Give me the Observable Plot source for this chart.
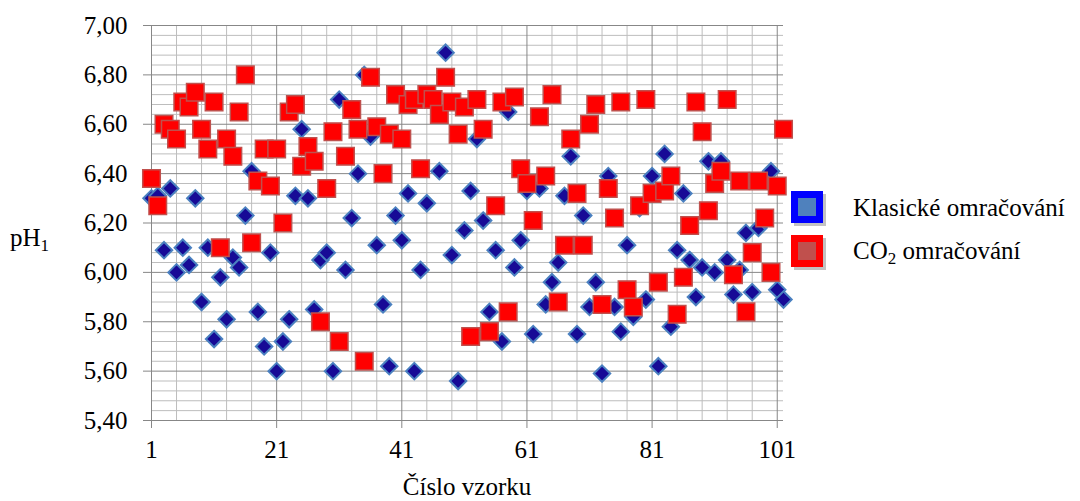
<!DOCTYPE html>
<html><head><meta charset="utf-8">
<script src="https://cdn.jsdelivr.net/npm/d3@7"></script>
<script src="https://cdn.jsdelivr.net/npm/@observablehq/plot@0.6"></script>
<style>
body{margin:0;background:#fff;}
#wrap{position:relative;width:1080px;height:501px;font-family:"Liberation Serif","Times New Roman",serif;color:#000;}
.lbl{position:absolute;font-size:25px;line-height:1;white-space:nowrap;}
.sw{position:absolute;width:32px;height:32px;}
</style></head><body><div id="wrap"></div>
<script>
const sample = [1,2,3,4,5,6,7,8,9,10,11,12,13,14,15,16,17,18,19,20,21,22,23,24,25,26,27,28,29,30,31,32,33,34,35,36,37,38,39,40,41,42,43,44,45,46,47,48,49,50,51,52,53,54,55,56,57,58,59,60,61,62,63,64,65,66,67,68,69,70,71,72,73,74,75,76,77,78,79,80,81,82,83,84,85,86,87,88,89,90,91,92,93,94,95,96,97,98,99,100,101,102];
const klasicke = [6.30,6.31,6.09,6.34,6.00,6.10,6.03,6.30,5.88,6.10,
 5.73,5.98,5.81,6.06,6.02,6.23,6.41,5.84,5.70,6.08,
 5.60,5.72,5.81,6.31,6.58,6.30,5.85,6.05,6.08,5.60,
 6.70,6.01,6.22,6.40,6.80,6.55,6.11,5.87,5.62,6.23,
 6.13,6.32,5.60,6.01,6.28,6.69,6.41,6.89,6.07,5.56,
 6.17,6.33,6.54,6.21,5.84,6.09,5.72,6.65,6.02,6.13,
 6.33,5.75,6.34,5.87,5.96,6.04,6.31,6.47,5.75,6.23,
 5.86,5.96,5.59,6.39,5.86,5.76,6.11,5.82,6.26,5.89,
 6.39,5.62,6.48,5.78,6.09,6.32,6.05,5.90,6.02,6.45,
 6.00,6.45,6.05,5.91,6.01,6.16,5.92,6.18,6.21,6.41,
 5.93,5.89];
const co2 = [6.38,6.27,6.60,6.58,6.54,6.69,6.67,6.73,6.58,6.50,
 6.69,6.10,6.54,6.47,6.65,6.80,6.12,6.37,6.50,6.35,
 6.50,6.20,6.65,6.68,6.43,6.51,6.45,5.80,6.34,6.57,
 5.72,6.47,6.66,6.58,5.64,6.79,6.59,6.40,6.56,6.72,
 6.54,6.68,6.70,6.42,6.72,6.70,6.64,6.79,6.69,6.56,
 6.67,5.74,6.70,6.58,5.76,6.27,6.69,5.84,6.71,6.42,
 6.36,6.21,6.63,6.39,6.72,5.88,6.11,6.54,6.32,6.11,
 6.60,6.68,5.87,6.34,6.22,6.69,5.93,5.86,6.27,6.70,
 6.32,5.96,6.33,6.39,5.83,5.98,6.19,6.69,6.57,6.25,
 6.36,6.41,6.70,5.99,6.37,5.84,6.08,6.37,6.22,6.00,
 6.35,6.58];
const yMajor = [5.4,5.6,5.8,6.0,6.2,6.4,6.6,6.8,7.0];
const yMinor = [5.44,5.48,5.52,5.56,5.64,5.68,5.72,5.76,5.84,5.88,5.92,5.96,6.04,6.08,6.12,6.16,6.24,6.28,6.32,6.36,6.44,6.48,6.52,6.56,6.64,6.68,6.72,6.76,6.84,6.88,6.92,6.96];
const xMajor = [1,21,41,61,81,101];
const xMinor = [5,9,13,17,25,29,33,37,45,49,53,57,65,69,73,77,85,89,93,97];
const seriesNames = ["Klasické omračování","CO₂ omračování"];

const blue = sample.map((s,i)=>({s, v:klasicke[i]}));
const red = sample.map((s,i)=>({s, v:co2[i]}));
const fmt = d => d.toFixed(2).replace(".", ",");
const grid = "#bdbdbd", major = "#878787";

const chart = Plot.plot({
  width:1080, height:501,
  marginLeft:151, marginRight:297, marginTop:25, marginBottom:81,
  style:{fontFamily:"'Liberation Serif', serif", fontSize:"25px", color:"#000", background:"#fff", overflow:"visible"},
  x:{domain:[1,102]},
  y:{domain:[5.4,7.0]},
  marks:[
    Plot.ruleY(yMinor, {stroke:grid, strokeWidth:1}),
    Plot.ruleX(xMinor, {stroke:grid, strokeWidth:1}),
    Plot.ruleY(yMajor, {stroke:major, strokeWidth:1}),
    Plot.ruleX(xMajor, {stroke:major, strokeWidth:1}),
    Plot.axisY({ticks:yMajor, tickSize:8, tickPadding:16, tickFormat:fmt, label:null, stroke:major, fill:"#000", fontSize:25}),
    Plot.axisX({ticks:xMajor, tickSize:8, tickPadding:12, tickFormat:d=>String(d), label:null, stroke:major, fill:"#000", fontSize:25}),
    Plot.dot(blue, {x:"s", y:"v", symbol:"diamond2", r:7.4, fill:"#170a96", stroke:"#4a80c0", strokeWidth:2}),
    Plot.dot(red, {x:"s", y:"v", symbol:"square", r:9.9, fill:"#ff0000", stroke:"#c0504d", strokeWidth:1.5})
  ]
});
const wrap = document.getElementById("wrap");
wrap.appendChild(chart);
chart.style.position = "absolute"; chart.style.left = "0"; chart.style.top = "0";

function add(html, css){const d=document.createElement("div");d.className="lbl";d.innerHTML=html;Object.assign(d.style,css);wrap.appendChild(d);return d;}
add('pH<sub style="font-size:17px;vertical-align:-5px">1</sub>', {left:"10px", top:"225px"});
add('Číslo vzorku', {left:"467px", top:"474px", transform:"translateX(-50%)"});

function swatch(top, border, inner){
  const sh=document.createElement("div");sh.className="sw";
  Object.assign(sh.style,{left:"794px",top:(top+3)+"px",background:"rgba(120,120,120,0.45)"});
  wrap.appendChild(sh);
  const s=document.createElement("div");s.className="sw";
  Object.assign(s.style,{left:"791px",top:top+"px",boxSizing:"border-box",border:"7px solid "+border,background:inner});
  wrap.appendChild(s);
}
swatch(191, "#0000ff", "#4f81bd");
swatch(235, "#ff0000", "#c0504d");
add(seriesNames[0], {left:"853px", top:"195px"});
add('CO<sub style="font-size:17px;vertical-align:-5px">2</sub> omračování', {left:"853px", top:"238px"});
</script></body></html>
